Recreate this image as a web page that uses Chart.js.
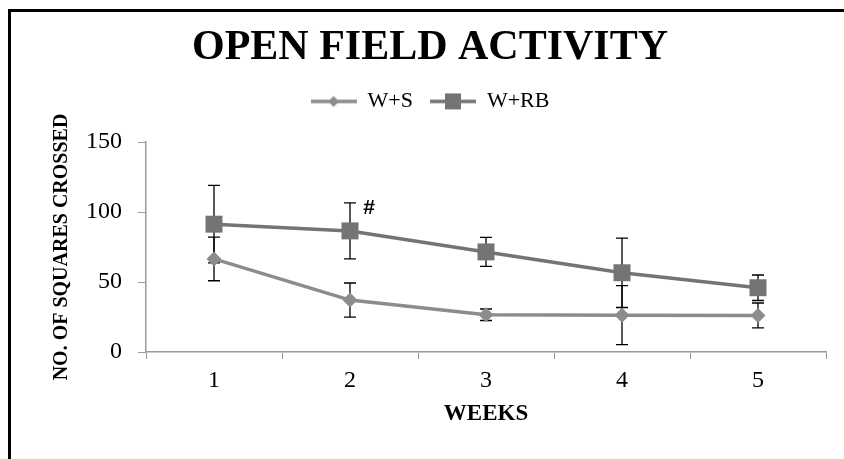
<!DOCTYPE html>
<html>
<head>
<meta charset="utf-8">
<script src="https://cdn.jsdelivr.net/npm/chart.js@4/dist/chart.umd.min.js"></script>
<style>
  html, body { margin: 0; padding: 0; background: #fff; }
  #wrap { width: 844px; height: 459px; position: relative; }
</style>
</head>
<body>
<div id="wrap"><canvas id="c" width="844" height="459"></canvas></div>
<script>
// ---- data ----
const weeks = ['1', '2', '3', '4', '5'];
const seriesNames = ['W+S', 'W+RB'];
const wsMean = [66.5, 37.1, 26.6, 26.3, 26.1];
const wsErr = [15.6, 12.2, 4.1, 21.1, 8.9];
const wrbMean = [91.3, 86.5, 71.5, 56.6, 45.9];
const wrbErr = [27.7, 20.0, 10.4, 24.8, 9.1];
const yTicks = [0, 50, 100, 150];
const markNote = { series: 1, index: 1, text: '#' };

const SERIF = "'Liberation Serif', 'Times New Roman', serif";
const colS = '#8c8c8c';
const colRB = '#747474';
const axisCol = '#9a9a9a';

function makeIcon(color, shape) {
  const c = document.createElement('canvas');
  c.width = 46; c.height = 18;
  const g = c.getContext('2d');
  g.strokeStyle = color; g.lineWidth = 3.5;
  g.beginPath(); g.moveTo(0, 9); g.lineTo(46, 9); g.stroke();
  g.fillStyle = color;
  if (shape === 'diamond') {
    g.beginPath(); g.moveTo(23, 3.5); g.lineTo(28.5, 9); g.lineTo(23, 14.5); g.lineTo(17.5, 9); g.closePath(); g.fill();
  } else {
    g.fillRect(15, 1, 16, 16);
  }
  return c;
}
const legendIcons = [makeIcon(colS, 'diamond'), makeIcon(colRB, 'square')];

const errorBars = {
  id: 'errorBars',
  beforeDatasetsDraw(chart) {
    const ctx = chart.ctx;
    const xs = chart.scales.x, ys = chart.scales.y;
    const errs = [wsErr, wrbErr];
    const means = [wsMean, wrbMean];
    ctx.save();
    ctx.strokeStyle = '#000';
    ctx.lineWidth = 1.3;
    means.forEach((m, s) => {
      m.forEach((v, i) => {
        const x = xs.getPixelForValue(i);
        const yt = ys.getPixelForValue(v + errs[s][i]);
        const yb = ys.getPixelForValue(v - errs[s][i]);
        ctx.beginPath();
        ctx.moveTo(x, yt); ctx.lineTo(x, yb);
        ctx.moveTo(x - 6, yt); ctx.lineTo(x + 6, yt);
        ctx.moveTo(x - 6, yb); ctx.lineTo(x + 6, yb);
        ctx.stroke();
      });
    });
    ctx.restore();
  },
  afterDatasetsDraw(chart) {
    const ctx = chart.ctx;
    const xs = chart.scales.x, ys = chart.scales.y;
    const means = [wsMean, wrbMean];
    const errs = [wsErr, wrbErr];
    const s = markNote.series, i = markNote.index;
    const x = xs.getPixelForValue(i) + 19;
    const y = ys.getPixelForValue(means[s][i] + errs[s][i]) + 5;
    ctx.save();
    ctx.fillStyle = '#000';
    ctx.font = "bold 21px 'Liberation Sans', Arial, sans-serif";
    ctx.textAlign = 'center';
    ctx.textBaseline = 'middle';
    ctx.fillText(markNote.text, x, y);
    ctx.restore();
  },
  beforeDraw(chart) {
    const ctx = chart.ctx;
    ctx.save();
    ctx.fillStyle = '#fff';
    ctx.fillRect(0, 0, chart.width, chart.height);
    ctx.fillStyle = '#000';
    ctx.fillRect(8, 9, 3, chart.height);
    ctx.fillRect(8, 9, chart.width, 3);
    ctx.restore();
  }
};

new Chart(document.getElementById('c'), {
  type: 'line',
  data: {
    labels: weeks,
    datasets: [
      {
        label: seriesNames[0], data: wsMean,
        borderColor: colS, backgroundColor: colS, borderWidth: 3.5,
        pointStyle: 'rectRot', pointRadius: 7.5, pointBorderWidth: 0,
        pointBackgroundColor: colS, tension: 0
      },
      {
        label: seriesNames[1], data: wrbMean,
        borderColor: colRB, backgroundColor: colRB, borderWidth: 3.5,
        pointStyle: 'rect', pointRadius: 12, pointBorderWidth: 0,
        pointBackgroundColor: colRB, tension: 0
      }
    ]
  },
  options: {
    responsive: false,
    animation: false,
    devicePixelRatio: 1,
    layout: { padding: { left: 34, right: 18, top: 0, bottom: 31 } },
    plugins: {
      title: {
        display: true, text: 'OPEN FIELD ACTIVITY', color: '#000',
        font: { family: SERIF, size: 42, weight: 'bold', lineHeight: 1.2 },
        padding: { top: 23, bottom: 0 }
      },
      subtitle: {
        display: true, text: '', position: 'top', weight: 500,
        font: { family: SERIF, size: 10, lineHeight: 1 },
        padding: { top: 0, bottom: 9.6 }
      },
      legend: {
        display: true,
        labels: {
          usePointStyle: true, pointStyleWidth: 46, color: '#000',
          font: { family: SERIF, size: 22 }, padding: 17,
          generateLabels(chart) {
            const items = Chart.defaults.plugins.legend.labels.generateLabels(chart);
            items.forEach((it, i) => { it.pointStyle = legendIcons[i]; });
            return items;
          }
        }
      },
      tooltip: { enabled: false }
    },
    scales: {
      x: {
        offset: true,
        grid: { offset: true, drawOnChartArea: false, drawTicks: true, tickLength: 7, color: axisCol },
        border: { color: axisCol, width: 1.5 },
        ticks: { color: '#000', font: { family: SERIF, size: 24 }, padding: 7 },
        title: { display: true, text: 'WEEKS', color: '#000', padding: 0,
                 font: { family: SERIF, size: 23, weight: 'bold', lineHeight: 1.2 } },
        afterFit(scale) { scale.height = 76; }
      },
      y: {
        min: 0, max: 150,
        afterBuildTicks(scale) { scale.ticks = yTicks.map(v => ({ value: v })); },
        grid: { drawOnChartArea: false, drawTicks: true, tickLength: 8, color: axisCol },
        border: { color: axisCol, width: 1.5 },
        ticks: { color: '#000', font: { family: SERIF, size: 24 }, padding: 16 },
        title: { display: true, text: 'NO. OF SQUARES CROSSED', color: '#000', padding: { top: 16, bottom: 0 },
                 font: { family: SERIF, size: 20, weight: 'bold', lineHeight: 1.2 } },
        afterFit(scale) { scale.width = 112; }
      }
    }
  },
  plugins: [errorBars]
});
</script>
</body>
</html>
